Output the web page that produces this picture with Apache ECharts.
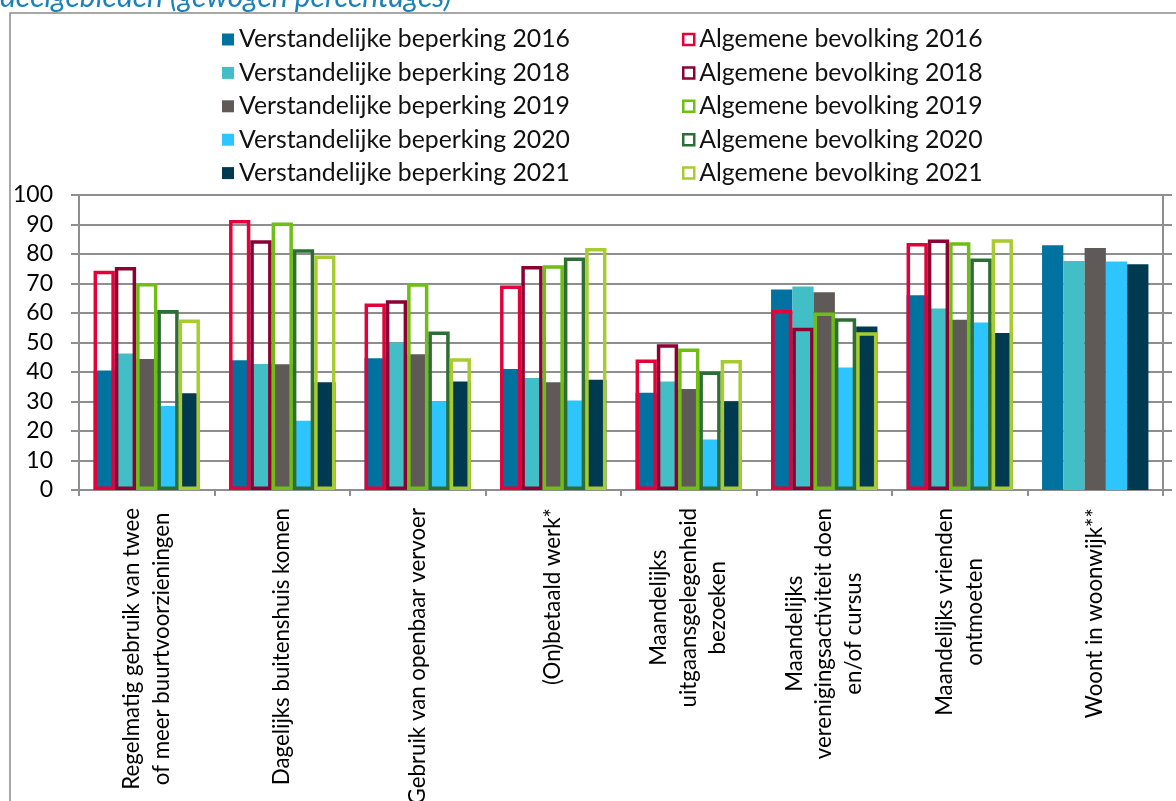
<!DOCTYPE html>
<html>
<head>
<meta charset="utf-8">
<script src="https://cdn.jsdelivr.net/npm/echarts@6/dist/echarts.min.js"></script>
<style>
html,body{margin:0;padding:0;background:#fff;}
#chart{width:1176px;height:801px;}
</style>
</head>
<body>
<div id="chart"></div>
<script>
// ---- data ----
const categories = [
  'Regelmatig gebruik van twee\nof meer buurtvoorzieningen',
  'Dagelijks buitenshuis komen',
  'Gebruik van openbaar vervoer',
  '(On)betaald werk*',
  'Maandelijks\nuitgaansgelegenheid\nbezoeken',
  'Maandelijks\nverenigingsactiviteit doen\nen/of cursus',
  'Maandelijks vrienden\nontmoeten',
  'Woont in woonwijk**'
];
const yTicks = [0, 10, 20, 30, 40, 50, 60, 70, 80, 90, 100];

const vb2016 = [40.5, 44, 44.7, 41, 33, 68, 66, 83];
const vb2018 = [46.3, 42.7, 50, 38, 36.8, 69, 61.5, 77.6];
const vb2019 = [44.4, 42.6, 46, 36.5, 34.2, 67, 57.7, 82];
const vb2020 = [28.5, 23.5, 30.1, 30.3, 17.1, 41.5, 56.8, 77.5];
const vb2021 = [32.8, 36.5, 36.8, 37.4, 30.1, 55.4, 53.2, 76.5];

const ab2016 = [74.3, 91.5, 63.2, 69.3, 44.2, 61, 83.7, null];
const ab2018 = [75.6, 84.7, 64.3, 75.9, 49.4, 55, 84.9, null];
const ab2019 = [70.2, 90.7, 70.1, 76.2, 48, 60.2, 84, null];
const ab2020 = [61, 81.6, 53.7, 78.8, 40.2, 58.2, 78.5, null];
const ab2021 = [57.8, 79.5, 44.7, 82, 44.1, 53.5, 85, null];

const filledNames = ['Verstandelijke beperking 2016','Verstandelijke beperking 2018','Verstandelijke beperking 2019','Verstandelijke beperking 2020','Verstandelijke beperking 2021'];
const outlineNames = ['Algemene bevolking 2016','Algemene bevolking 2018','Algemene bevolking 2019','Algemene bevolking 2020','Algemene bevolking 2021'];
const filledValues = [vb2016, vb2018, vb2019, vb2020, vb2021];
const outlineValues = [ab2016, ab2018, ab2019, ab2020, ab2021];
const filledColors = ['#0072a0', '#42bfc6', '#5f5a57', '#2ec5ff', '#003a50'];
const outlineColors = ['#e4003a', '#8c0032', '#6ebe14', '#2e6e34', '#a8cc30'];

const FONT = 'Lato, "Noto Sans", sans-serif';
const GRID_GRAY = '#8e8e8e';

const chart = echarts.init(document.getElementById('chart'));

const series = [];
filledNames.forEach((n, i) => {
  series.push({
    name: n, type: 'bar', xAxisIndex: 0, yAxisIndex: 0,
    data: filledValues[i],
    barCategoryGap: '21.5%', barGap: '0%',
    itemStyle: { color: filledColors[i] },
    z: 2
  });
});
outlineNames.forEach((n, i) => {
  series.push({
    name: n, type: 'bar', xAxisIndex: 1, yAxisIndex: 0,
    data: outlineValues[i],
    barCategoryGap: '21.5%', barGap: '0%',
    itemStyle: { color: 'rgba(0,0,0,0)', borderColor: outlineColors[i], borderWidth: 3.5 },
    z: 3
  });
});

const option = {
  animation: false,
  backgroundColor: '#fff',
  graphic: [
    { type: 'rect', shape: { x: 10, y: 13, width: 1200, height: 900 }, style: { fill: 'none', stroke: '#8a8a8a', lineWidth: 1.5 }, z: -10, silent: true },
    { type: 'text', x: 0, y: 12, style: { text: 'deelgebieden (gewogen percentages)', font: 'italic 30px ' + FONT, fill: '#1a82b8', textVerticalAlign: 'bottom' }, z: 10 }
  ],
  legend: [
    {
      orient: 'vertical', left: 222, top: 27, padding: 0,
      itemWidth: 12, itemHeight: 12, itemGap: 8.4,
      icon: 'rect',
      textStyle: { fontFamily: FONT, fontSize: 24.8, color: '#111', lineHeight: 25 },
      data: filledNames
    },
    {
      orient: 'vertical', left: 682, top: 27, padding: 0,
      itemWidth: 11, itemHeight: 11, itemGap: 8.4,
      icon: 'rect',
      textStyle: { fontFamily: FONT, fontSize: 24.8, color: '#111', lineHeight: 25 },
      data: outlineNames.map((n, i) => ({ name: n, itemStyle: { color: '#fff', borderColor: outlineColors[i], borderWidth: 2.5 } }))
    }
  ],
  grid: { left: 79, right: 13, top: 195, bottom: 311, containLabel: false, outerBoundsMode: 'none' },
  xAxis: [
    {
      type: 'category', data: categories, boundaryGap: true,
      axisLine: { show: true, lineStyle: { color: GRID_GRAY, width: 2 } },
      axisTick: { show: true, alignWithLabel: false, length: 6, lineStyle: { color: GRID_GRAY, width: 2 } },
      axisLabel: {
        interval: 0, rotate: 90, margin: 18,
        formatter: v => v.split('\n').map(l => '{c|' + l + '}').join('\n'),
        rich: { c: { align: 'center', fontFamily: FONT, fontSize: 22.3, lineHeight: 29.5, color: '#000' } }
      },
      splitLine: { show: false }
    },
    {
      type: 'category', data: categories, boundaryGap: true, position: 'bottom',
      show: false
    }
  ],
  yAxis: [
    {
      type: 'value', min: 0, max: 100, interval: 10,
      axisLine: { show: true, lineStyle: { color: GRID_GRAY, width: 2 } },
      axisTick: { show: true, length: 8, lineStyle: { color: GRID_GRAY, width: 2 } },
      axisLabel: { fontFamily: FONT, fontSize: 23, color: '#000', margin: 26, formatter: v => yTicks.includes(v) ? String(v) : '' },
      splitLine: { show: true, lineStyle: { color: GRID_GRAY, width: 2 } }
    },
    {
      type: 'value', min: 0, max: 100, interval: 10, position: 'right',
      axisLine: { show: true, lineStyle: { color: GRID_GRAY, width: 2 } },
      axisTick: { show: true, length: 9, lineStyle: { color: GRID_GRAY, width: 2 } },
      axisLabel: { show: false },
      splitLine: { show: false }
    }
  ],
  series: series
};
chart.setOption(option);
</script>
</body>
</html>
